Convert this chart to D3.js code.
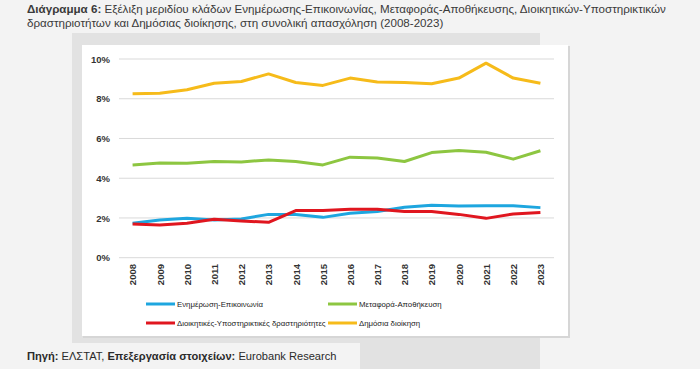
<!DOCTYPE html>
<html>
<head>
<meta charset="utf-8">
<script src="https://cdn.jsdelivr.net/npm/d3@7"></script>
<style>
  html, body { margin: 0; padding: 0; background: #f3f3f3; }
  svg { display: block; }
</style>
</head>
<body>
<svg id="chart" width="700" height="369"></svg>
<script>
const years = ["2008","2009","2010","2011","2012","2013","2014","2015","2016","2017","2018","2019","2020","2021","2022","2023"];
const seriesNames = ["Ενημέρωση-Επικοινωνία", "Μεταφορά-Αποθήκευση", "Διοικητικές-Υποστηρικτικές δραστηριότητες", "Δημόσια διοίκηση"];
const infoComm = [1.73, 1.90, 1.98, 1.90, 1.95, 2.18, 2.17, 2.03, 2.24, 2.32, 2.54, 2.64, 2.60, 2.62, 2.62, 2.52];
const transport = [4.67, 4.76, 4.75, 4.84, 4.82, 4.92, 4.84, 4.67, 5.06, 5.02, 4.84, 5.29, 5.39, 5.31, 4.96, 5.38];
const adminSupport = [1.70, 1.65, 1.73, 1.93, 1.85, 1.78, 2.37, 2.37, 2.44, 2.44, 2.32, 2.32, 2.18, 1.98, 2.20, 2.28];
const publicAdmin = [8.25, 8.28, 8.45, 8.78, 8.87, 9.25, 8.82, 8.67, 9.04, 8.84, 8.82, 8.75, 9.04, 9.79, 9.04, 8.78];
const yTicks = [0, 2, 4, 6, 8, 10];
const colors = ["#1ea6df", "#8dc641", "#e0161f", "#f6bb1a"];

const svg = d3.select("#chart");

// background panels
svg.append("rect").attr("x", 0).attr("y", 0).attr("width", 700).attr("height", 369).attr("fill", "#f3f3f3");
svg.append("rect").attr("x", 72).attr("y", 33).attr("width", 468).attr("height", 336).attr("fill", "#e2e2e2");
svg.append("rect").attr("x", 0).attr("y", 343).attr("width", 360).attr("height", 26).attr("fill", "#f3f3f3");
// chart box with faint shadow
svg.append("rect").attr("x", 83).attr("y", 46).attr("width", 487).attr("height", 292).attr("fill", "#d6d6d6");
svg.append("rect").attr("x", 82).attr("y", 45).attr("width", 486).attr("height", 291).attr("fill", "#ffffff");

const textFont = "Liberation Sans, Arial, sans-serif";

// helper: a row of text runs placed one after another as separate text elements
function textRow(runs, x0, yb, size, fill) {
  let xc = x0;
  runs.forEach(([txt, bold]) => {
    const t = svg.append("text").attr("x", xc).attr("y", yb)
      .attr("font-family", textFont).attr("font-size", size)
      .attr("font-weight", bold ? "bold" : "normal").attr("fill", fill)
      .attr("xml:space", "preserve").style("white-space", "pre")
      .text(txt);
    xc += t.node().getComputedTextLength();
  });
  return xc - x0;
}

// title
textRow([["Διάγραμμα 6:", true], [" Εξέλιξη μεριδίου κλάδων Ενημέρωσης-Επικοινωνίας, Μεταφοράς-Αποθήκευσης, Διοικητικών-Υποστηρικτικών", false]], 27, 13, 11.6, "#3a3a3a");
textRow([["δραστηριοτήτων και Δημόσιας διοίκησης, στη συνολική απασχόληση (2008-2023)", false]], 27, 26.6, 11.6, "#3a3a3a");

// source
textRow([["Πηγή:", true], [" ΕΛΣΤΑΤ, ", false], ["Επεξεργασία στοιχείων:", true], [" Eurobank Research", false]], 27, 360, 11.1, "#2a2a2a");

// scales
const x = d3.scalePoint().domain(years).range([119, 554]).padding(0.5);
const y = d3.scaleLinear().domain([0, 10]).range([257.7, 59]);

// grid
svg.append("g").selectAll("line").data(yTicks).join("line")
  .attr("x1", 119).attr("x2", 554)
  .attr("y1", d => y(d)).attr("y2", d => y(d))
  .attr("stroke", "#d9d9d9").attr("stroke-width", 1);

// y axis
const yAxis = svg.append("g").attr("transform", "translate(110,0)")
  .call(d3.axisLeft(y).tickValues(yTicks).tickSize(0).tickPadding(0).tickFormat(d => d + "%"));
yAxis.select(".domain").remove();
yAxis.selectAll("text").attr("font-family", "Liberation Sans, Arial, sans-serif")
  .attr("font-weight", "bold").attr("font-size", 9.5).attr("fill", "#333");

// x axis
const xAxis = svg.append("g").attr("transform", "translate(0,264)")
  .call(d3.axisBottom(x).tickSize(0).tickPadding(0));
xAxis.select(".domain").remove();
xAxis.selectAll("text")
  .attr("font-family", "Liberation Sans, Arial, sans-serif")
  .attr("font-weight", "bold").attr("font-size", 9.5).attr("fill", "#333")
  .attr("text-anchor", "end").attr("dy", "0.35em").attr("dx", 0).attr("y", 0)
  .attr("transform", "rotate(-90)");

// lines
const allSeries = [infoComm, transport, adminSupport, publicAdmin];
const line = d3.line().x((d, i) => x(years[i])).y(d => y(d));
svg.append("g").selectAll("path").data(allSeries).join("path")
  .attr("d", d => line(d)).attr("fill", "none")
  .attr("stroke", (d, i) => colors[i]).attr("stroke-width", 3)
  .attr("stroke-linejoin", "round").attr("stroke-linecap", "butt");

// legend
const legendPos = [[146, 304], [328, 304], [146, 323], [328, 323]];
const lg = svg.append("g").selectAll("g").data(seriesNames).join("g")
  .attr("transform", (d, i) => `translate(${legendPos[i][0]},${legendPos[i][1]})`);
lg.append("line").attr("x1", 0).attr("x2", 29).attr("y1", 0).attr("y2", 0)
  .attr("stroke", (d, i) => colors[i]).attr("stroke-width", 3);
lg.append("text").attr("x", 31).attr("y", 0).attr("dy", "0.35em")
  .attr("font-family", "Liberation Sans, Arial, sans-serif").attr("font-size", 7.8).attr("fill", "#222")
  .text(d => d);
</script>
</body>
</html>
